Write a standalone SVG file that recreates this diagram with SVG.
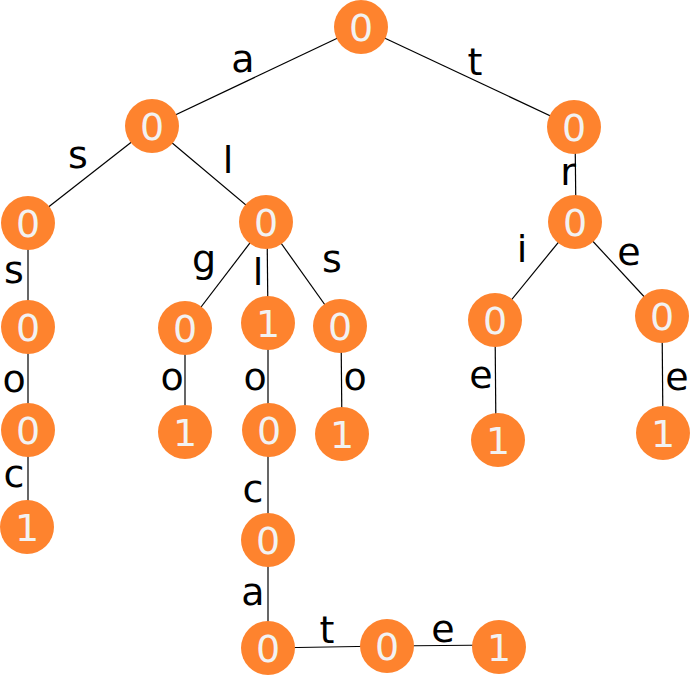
<svg xmlns="http://www.w3.org/2000/svg" width="691" height="676" viewBox="0 0 691 676">
<style>
.e{stroke:#000;stroke-width:1.2;fill:none}
.n circle{fill:#FE832E}
.n text{fill:#F2F2F2;font-family:"DejaVu Sans",Verdana,sans-serif;font-size:38px;text-anchor:middle}
.l{fill:#000;font-family:"DejaVu Sans",Verdana,sans-serif;font-size:38px;text-anchor:middle}
</style>
<rect width="691" height="676" fill="#fff"/>
<g id="connectors">
<line class="e" x1="361" y1="27" x2="152" y2="126"/>
<line class="e" x1="361" y1="27" x2="574" y2="127"/>
<line class="e" x1="152" y1="126" x2="28" y2="223"/>
<line class="e" x1="152" y1="126" x2="266" y2="222"/>
<line class="e" x1="575" y1="127" x2="576" y2="222"/>
<line class="e" x1="28" y1="223" x2="28" y2="527"/>
<line class="e" x1="266" y1="222" x2="185" y2="328"/>
<line class="e" x1="267" y1="222" x2="268" y2="323"/>
<line class="e" x1="266" y1="222" x2="340" y2="326"/>
<line class="e" x1="185" y1="328" x2="185" y2="432"/>
<line class="e" x1="268" y1="323" x2="268" y2="648"/>
<line class="e" x1="341" y1="326" x2="342" y2="434"/>
<line class="e" x1="575" y1="222" x2="495" y2="320"/>
<line class="e" x1="575" y1="222" x2="662" y2="316"/>
<line class="e" x1="495" y1="320" x2="496" y2="440"/>
<line class="e" x1="662" y1="316" x2="663" y2="433"/>
<line class="e" x1="268" y1="648" x2="387" y2="646"/>
<line class="e" x1="387" y1="646" x2="499" y2="645"/>
</g>
<g id="edge-labels">
<text class="l" x="243" y="72">a</text>
<text class="l" x="475" y="75">t</text>
<text class="l" x="78" y="168">s</text>
<text class="l" x="228" y="173">l</text>
<text class="l" x="568" y="185">r</text>
<text class="l" x="14" y="283">s</text>
<text class="l" x="14" y="392">o</text>
<text class="l" x="14" y="487">c</text>
<text class="l" x="204" y="272">g</text>
<text class="l" x="258" y="285">l</text>
<text class="l" x="332" y="272">s</text>
<text class="l" x="172" y="390">o</text>
<text class="l" x="255" y="390">o</text>
<text class="l" x="355" y="390">o</text>
<text class="l" x="522" y="262">i</text>
<text class="l" x="629" y="265">e</text>
<text class="l" x="481" y="388">e</text>
<text class="l" x="677" y="390">e</text>
<text class="l" x="253" y="502">c</text>
<text class="l" x="253" y="605">a</text>
<text class="l" x="327" y="643">t</text>
<text class="l" x="443" y="642">e</text>
</g>
<g id="root" class="n"><circle cx="361" cy="27" r="27"/><text x="361" y="41">0</text></g>
<g id="n-a" class="n"><circle cx="152" cy="126" r="27"/><text x="152" y="140">0</text></g>
<g id="n-t" class="n"><circle cx="574" cy="127" r="27"/><text x="574" y="141">0</text></g>
<g id="n-as" class="n"><circle cx="28" cy="223" r="27"/><text x="28" y="237">0</text></g>
<g id="n-al" class="n"><circle cx="266" cy="222" r="27"/><text x="266" y="236">0</text></g>
<g id="n-tr" class="n"><circle cx="575" cy="222" r="27"/><text x="575" y="236">0</text></g>
<g id="n-ass" class="n"><circle cx="28" cy="327" r="27"/><text x="28" y="341">0</text></g>
<g id="n-alg" class="n"><circle cx="185" cy="328" r="27"/><text x="185" y="342">0</text></g>
<g id="n-all" class="n"><circle cx="268" cy="323" r="27"/><text x="268" y="337">1</text></g>
<g id="n-als" class="n"><circle cx="340" cy="326" r="27"/><text x="340" y="340">0</text></g>
<g id="n-tri" class="n"><circle cx="495" cy="320" r="27"/><text x="495" y="334">0</text></g>
<g id="n-tre" class="n"><circle cx="662" cy="316" r="27"/><text x="662" y="330">0</text></g>
<g id="n-asso" class="n"><circle cx="28" cy="430" r="27"/><text x="28" y="444">0</text></g>
<g id="n-algo" class="n"><circle cx="185" cy="432" r="27"/><text x="185" y="446">1</text></g>
<g id="n-allo" class="n"><circle cx="269" cy="430" r="27"/><text x="269" y="444">0</text></g>
<g id="n-also" class="n"><circle cx="342" cy="434" r="27"/><text x="342" y="448">1</text></g>
<g id="n-trie" class="n"><circle cx="498" cy="440" r="27"/><text x="498" y="454">1</text></g>
<g id="n-tree" class="n"><circle cx="663" cy="433" r="27"/><text x="663" y="447">1</text></g>
<g id="n-assoc" class="n"><circle cx="27" cy="527" r="27"/><text x="27" y="541">1</text></g>
<g id="n-alloc" class="n"><circle cx="268" cy="540" r="27"/><text x="268" y="554">0</text></g>
<g id="n-alloca" class="n"><circle cx="268" cy="648" r="27"/><text x="268" y="662">0</text></g>
<g id="n-allocat" class="n"><circle cx="387" cy="646" r="27"/><text x="387" y="660">0</text></g>
<g id="n-allocate" class="n"><circle cx="499" cy="647" r="27"/><text x="499" y="661">1</text></g>
</svg>
